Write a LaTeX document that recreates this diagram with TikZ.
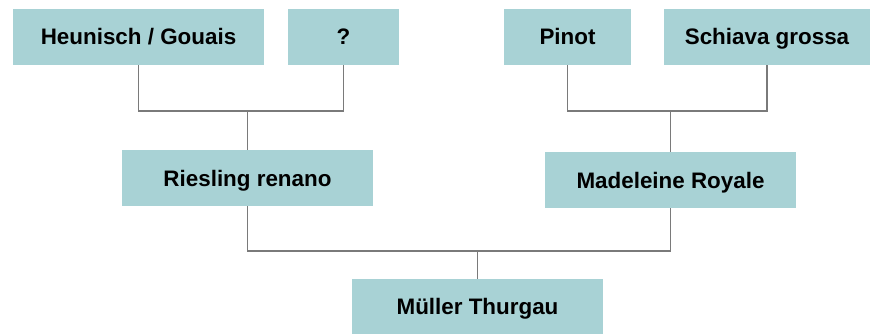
\documentclass[tikz,border=0pt]{standalone}
\usepackage{fontspec}
\setmainfont{Liberation Sans}
\definecolor{boxfill}{HTML}{A8D2D5}
\definecolor{linkgray}{HTML}{7A7A7A}
\begin{document}
\begin{tikzpicture}[x=1pt,y=-1pt,
  vine/.style={fill=boxfill, draw=none, inner sep=0pt, minimum height=56pt,
    text height=20pt, text depth=4pt,
    font=\fontsize{22.4}{26}\selectfont\bfseries, text=black},
  link/.style={draw=linkgray, line width=1.2pt}]
  \useasboundingbox (0,0) rectangle (877,334);
  % parents
  \node[vine, minimum width=251pt] (hg) at (138.5,37) {Heunisch / Gouais};
  \node[vine, minimum width=111pt] (q) at (343.5,37) {?};
  \node[vine, minimum width=127pt] (pinot) at (567.5,37) {Pinot};
  \node[vine, minimum width=206pt] (schiava) at (767,37) {Schiava grossa};
  % middle generation
  \node[vine, minimum width=251pt] (ries) at (247.5,178) {Riesling renano};
  \node[vine, minimum width=251pt] (mad) at (670.5,180) {Madeleine Royale};
  % offspring
  \node[vine, minimum width=251pt, minimum height=55pt] (mt) at (477.5,306.5) {Müller Thurgau};
  % junction points
  \coordinate (j1) at (247.5,111);
  \coordinate (j2) at (670.5,111);
  \coordinate (j3) at (477.5,251);
  % connectors
  \draw[link] (hg.south) -- (hg.south |- j1) -- (q.south |- j1) -- (q.south);
  \draw[link] (j1) -- (ries.north);
  \draw[link] (pinot.south) -- (pinot.south |- j2) -- (schiava.south |- j2) -- (schiava.south);
  \draw[link] (j2) -- (mad.north);
  \draw[link] (ries.south) -- (ries.south |- j3) -- (mad.south |- j3) -- (mad.south);
  \draw[link] (j3) -- (mt.north);
\end{tikzpicture}
\end{document}
